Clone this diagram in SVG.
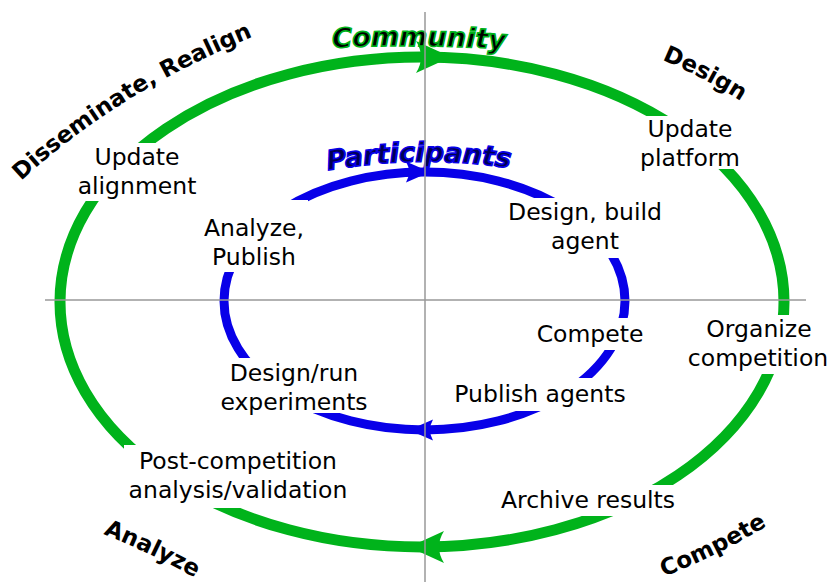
<svg xmlns="http://www.w3.org/2000/svg" width="830" height="582" viewBox="0 0 830 582">
<style>
.lbl{font-family:"DejaVu Sans",sans-serif;font-size:23.5px;fill:#000;text-anchor:middle}
.bg{fill:#fff}
.corner{font-family:"DejaVu Sans",sans-serif;font-size:23px;font-weight:bold;fill:#000;text-anchor:middle}
.ring{fill:none}
.outer{stroke:#00b31b;stroke-width:11}
.inner{stroke:#0800e8;stroke-width:9}
.gfill{fill:#00b31b}
.bfill{fill:#0800e8}
.axis{stroke:#999;stroke-width:1.5;fill:none}
.title{font-family:"DejaVu Sans",sans-serif;font-size:27px;font-weight:bold;font-style:italic;stroke-width:1.6;text-anchor:middle}
.tg{fill:#000;stroke:#00b31b}
.tb{fill:#000050;stroke:#0800e8}
</style>
<defs>
<path id="p-dis" d="M 18 184 Q 113 94 257 35"/>
<path id="p-des" d="M 652 56 Q 700 74 750 107"/>
<path id="p-ana" d="M 95 531 Q 148 551 203 582"/>
<path id="p-com" d="M 652 581 Q 716 558 778 519"/>
<path id="p-community" d="M 309 49 Q 419 42 529 51"/>
<path id="p-part" d="M 305 175 Q 419 150 533 172"/>
<path id="ahG" d="M0,0 L-35,-16 Q-25,0 -35,16 Z"/>
<path id="ahB" d="M0,0 L-24,-10.5 Q-18,0 -24,10.5 Z"/>
</defs>

<g id="connectors">
<ellipse class="ring outer" cx="422" cy="302" rx="362" ry="245"/>
<ellipse class="ring inner" cx="424.5" cy="301" rx="200.5" ry="129"/>
<use href="#ahG" class="gfill" transform="translate(451,57)"/>
<use href="#ahG" class="gfill" transform="translate(409,547) rotate(180)"/>
<use href="#ahB" class="bfill" transform="translate(430,172)"/>
<use href="#ahB" class="bfill" transform="translate(409,430) rotate(180)"/>
</g>

<g id="title-community">
<text class="title tg"><textPath href="#p-community" startOffset="50%">Community</textPath></text>
</g>
<g id="title-participants">
<text class="title tb"><textPath href="#p-part" startOffset="50%">Participants</textPath></text>
</g>

<g id="phase-disseminate"><text class="corner"><textPath href="#p-dis" startOffset="50%">Disseminate, Realign</textPath></text></g>
<g id="phase-design"><text class="corner"><textPath href="#p-des" startOffset="50%">Design</textPath></text></g>
<g id="phase-analyze"><text class="corner"><textPath href="#p-ana" startOffset="50%">Analyze</textPath></text></g>
<g id="phase-compete"><text class="corner"><textPath href="#p-com" startOffset="50%">Compete</textPath></text></g>

<g id="update-alignment">
<rect class="bg" x="72" y="143" width="132" height="58"/>
<text class="lbl" x="137" y="165">Update</text>
<text class="lbl" x="137" y="194">alignment</text>
</g>
<g id="update-platform">
<rect class="bg" x="638" y="116" width="104" height="53"/>
<text class="lbl" x="690" y="137">Update</text>
<text class="lbl" x="690" y="166">platform</text>
</g>
<g id="organize-competition">
<rect class="bg" x="684" y="315" width="146" height="59"/>
<text class="lbl" x="759" y="337">Organize</text>
<text class="lbl" x="758" y="366">competition</text>
</g>
<g id="archive-results">
<rect class="bg" x="496" y="485" width="184" height="31"/>
<text class="lbl" x="588" y="508">Archive results</text>
</g>
<g id="post-competition">
<rect class="bg" x="124" y="445" width="228" height="63"/>
<text class="lbl" x="238" y="469">Post-competition</text>
<text class="lbl" x="238" y="498">analysis/validation</text>
</g>

<g id="analyze-publish">
<rect class="bg" x="198" y="200" width="110" height="72"/>
<text class="lbl" x="254" y="236">Analyze,</text>
<text class="lbl" x="254" y="265">Publish</text>
</g>
<g id="design-build-agent">
<rect class="bg" x="503" y="198" width="164" height="60"/>
<text class="lbl" x="585" y="220">Design, build</text>
<text class="lbl" x="585" y="249">agent</text>
</g>
<g id="compete">
<rect class="bg" x="532" y="318" width="116" height="32"/>
<text class="lbl" x="590" y="342">Compete</text>
</g>
<g id="publish-agents">
<rect class="bg" x="449" y="378" width="181" height="33"/>
<text class="lbl" x="540" y="402">Publish agents</text>
</g>
<g id="design-run-experiments">
<rect class="bg" x="215" y="358" width="158" height="55"/>
<text class="lbl" x="294" y="381">Design/run</text>
<text class="lbl" x="294" y="410">experiments</text>
</g>

<g id="axes">
<line class="axis" x1="425" y1="12" x2="425" y2="582"/>
<line class="axis" x1="45" y1="300" x2="806" y2="300"/>
</g>
</svg>
